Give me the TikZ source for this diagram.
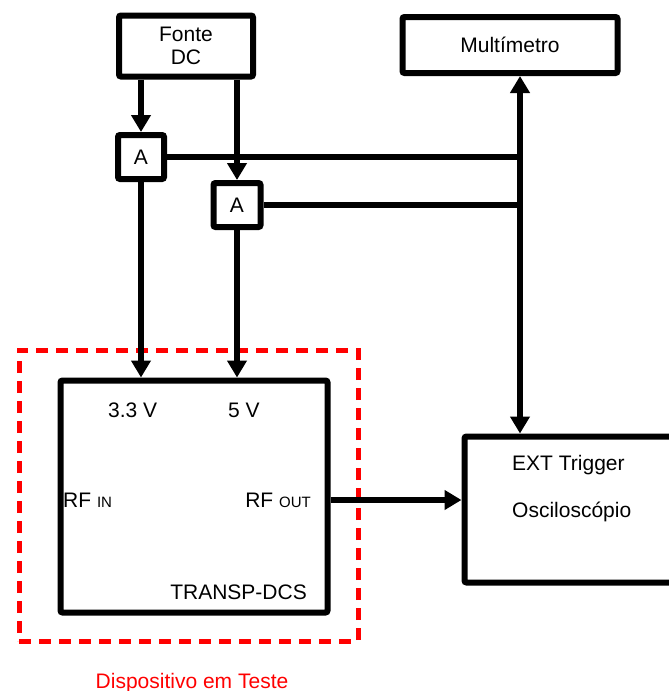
\documentclass[tikz,border=0pt]{standalone}
\usepackage{fontspec}
\setmainfont{Liberation Sans}
\definecolor{testred}{RGB}{255,0,0}
\usetikzlibrary{arrows.meta,positioning,calc}

\begin{document}
\begin{tikzpicture}[x=1pt,y=-1pt,
    blk/.style={draw, line width=6pt, rounded corners=2pt, inner sep=0pt, align=center, font=\fontsize{21}{23}\selectfont},
    lbl/.style={inner sep=0pt, font=\fontsize{21}{23}\selectfont},
    wire/.style={line width=5.5pt},
    arr/.style={wire, -{Triangle[length=17pt,width=19pt]}},
    dblarr/.style={wire, {Triangle[length=17pt,width=19pt]}-{Triangle[length=17pt,width=19pt]}}]
    \clip (0,0) rectangle (669,691);
    % instruments
    \node[blk, minimum width=134pt, minimum height=61pt] (fonte) at (186,46) {Fonte\\DC};
    \node[blk, minimum width=215pt, minimum height=56pt] (multi) at (510,45) {Multímetro};
    \node[blk, minimum width=46pt, minimum height=44pt] (ampA) at (141,157) {A};
    \node[blk, minimum width=47pt, minimum height=44pt] (ampB) at (237,205) {A};
    \node[blk, minimum width=233pt, minimum height=146pt] (osc) at (581,509.5) {};
    % device under test
    \node[draw=testred, line width=5pt, dash pattern=on 12pt off 8pt, minimum width=339pt, minimum height=291pt] (dutfrm) at (188.5,495.5) {};
    \node[blk, minimum width=267pt, minimum height=232pt] (dut) at (194,496.5) {};
    \node[lbl, anchor=base west] (v33) at (108,417) {3.3 V};
    \node[lbl, anchor=base west] (v5) at (228,417) {5 V};
    \node[lbl, anchor=base west] (rfin) at (63,507) {RF {\fontsize{15}{15}\selectfont IN}};
    \node[lbl, anchor=base east] (rfout) at (311,507) {RF {\fontsize{15}{15}\selectfont OUT}};
    \node[lbl, anchor=base east] (dutname) at (307,599) {TRANSP-DCS};
    \node[lbl, anchor=base, text=testred] (dutcap) at (192,688) {Dispositivo em Teste};
    \node[lbl, anchor=base west] (extlbl) at (512,470) {EXT Trigger};
    \node[lbl, anchor=base west] (osclbl) at (512,517) {Osciloscópio};
    % connections
    \coordinate (bus) at (520,0);
    \draw[arr] (fonte.south -| ampA) -- (ampA.north);
    \draw[arr] (fonte.south -| ampB) -- (ampB.north);
    \draw[wire] (ampA.east) -- (ampA.east -| bus);
    \draw[wire] (ampB.east) -- (ampB.east -| bus);
    \draw[dblarr] (multi.south -| bus) -- (osc.north -| bus);
    \draw[arr] (ampA.south) -- (ampA.south |- dut.north);
    \draw[arr] (ampB.south) -- (ampB.south |- dut.north);
    \draw[arr] ([yshift=-3.5pt]dut.east) -- ([yshift=-3.5pt]dut.east -| osc.west);
\end{tikzpicture}
\end{document}
